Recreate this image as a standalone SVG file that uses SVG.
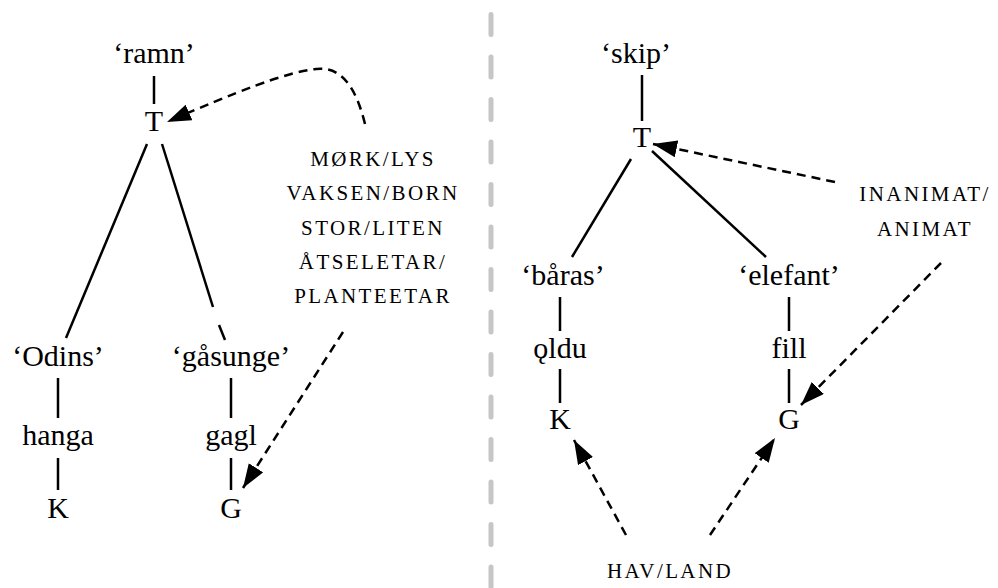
<svg xmlns="http://www.w3.org/2000/svg" width="998" height="588" viewBox="0 0 998 588">
<style>
  text { font-family: 'Liberation Serif', 'Times New Roman', serif; fill: #000; text-anchor: middle; }
  .t { font-size: 30px; }
  .sc { font-size: 21px; letter-spacing: 2.4px; }
  .e { stroke: #000; stroke-width: 2.5; fill: none; }
  .d { stroke: #000; stroke-width: 2.5; fill: none; stroke-dasharray: 9 6; }
  .div { stroke: #c6c6c6; stroke-width: 5; stroke-linecap: round; stroke-dasharray: 20 22.5; fill: none; }
</style>
<defs>
  <marker id="ah" markerUnits="userSpaceOnUse" markerWidth="26" markerHeight="18" refX="24" refY="8.5" orient="auto">
    <path d="M0,0 L24,8.5 L0,17 z" fill="#000"/>
  </marker>
</defs>
<rect width="998" height="588" fill="#fff"/>
<line class="div" x1="491" y1="14.5" x2="491" y2="588"/>

<g id="connectors">
  <line class="e" x1="154" y1="76" x2="154" y2="104"/>
  <line class="e" x1="147" y1="144" x2="66" y2="338"/>
  <line class="e" x1="162" y1="144" x2="213" y2="307"/>
  <line class="e" x1="219" y1="325" x2="225" y2="340"/>
  <line class="e" x1="58" y1="378" x2="58" y2="418"/>
  <line class="e" x1="58" y1="458" x2="58" y2="490"/>
  <line class="e" x1="231" y1="378" x2="231" y2="418"/>
  <line class="e" x1="231" y1="458" x2="231" y2="490"/>
  <path class="d" d="M365,124 C356,88 342,66 316,69 C286,72 236,92 167,122" marker-end="url(#ah)"/>
  <line class="d" x1="343" y1="332" x2="243" y2="488" marker-end="url(#ah)"/>

  <line class="e" x1="642" y1="75" x2="642" y2="121"/>
  <line class="e" x1="631" y1="159" x2="572" y2="257"/>
  <line class="e" x1="652" y1="151" x2="766" y2="257"/>
  <line class="e" x1="560" y1="297" x2="560" y2="331"/>
  <line class="e" x1="560" y1="369" x2="560" y2="403"/>
  <line class="e" x1="789" y1="297" x2="789" y2="331"/>
  <line class="e" x1="789" y1="369" x2="789" y2="403"/>
  <line class="d" x1="835" y1="182" x2="653" y2="144" marker-end="url(#ah)"/>
  <line class="d" x1="941" y1="263" x2="801" y2="405" marker-end="url(#ah)"/>
  <line class="d" x1="626" y1="535" x2="574" y2="440" marker-end="url(#ah)"/>
  <line class="d" x1="710" y1="535" x2="775" y2="438" marker-end="url(#ah)"/>
</g>

<g id="ramn"><text class="t" x="154" y="63">‘ramn’</text></g>
<g id="T1"><text class="t" x="154" y="131">T</text></g>
<g id="odins"><text class="t" x="58" y="366">‘Odins’</text></g>
<g id="gasunge"><text class="t" x="231" y="366">‘gåsunge’</text></g>
<g id="hanga"><text class="t" x="58" y="445">hanga</text></g>
<g id="gagl"><text class="t" x="231" y="445">gagl</text></g>
<g id="K1"><text class="t" x="58" y="518">K</text></g>
<g id="G1"><text class="t" x="231" y="518">G</text></g>
<g id="features1">
  <text class="sc" x="373" y="166">MØRK/LYS</text>
  <text class="sc" x="373" y="200">VAKSEN/BORN</text>
  <text class="sc" x="373" y="235">STOR/LITEN</text>
  <text class="sc" x="373" y="269">ÅTSELETAR/</text>
  <text class="sc" x="373" y="303">PLANTEETAR</text>
</g>

<g id="skip"><text class="t" x="636" y="63">‘skip’</text></g>
<g id="T2"><text class="t" x="642" y="147">T</text></g>
<g id="baras"><text class="t" x="563" y="285">‘båras’</text></g>
<g id="elefant"><text class="t" x="789" y="285">‘elefant’</text></g>
<g id="oldu"><text class="t" x="560" y="358">ǫldu</text></g>
<g id="fill"><text class="t" x="789" y="358">fill</text></g>
<g id="K2"><text class="t" x="560" y="429">K</text></g>
<g id="G2"><text class="t" x="789" y="429">G</text></g>
<g id="features2">
  <text class="sc" x="925" y="201">INANIMAT/</text>
  <text class="sc" x="925" y="236">ANIMAT</text>
</g>
<g id="features3"><text class="sc" x="670" y="578">HAV/LAND</text></g>
</svg>
